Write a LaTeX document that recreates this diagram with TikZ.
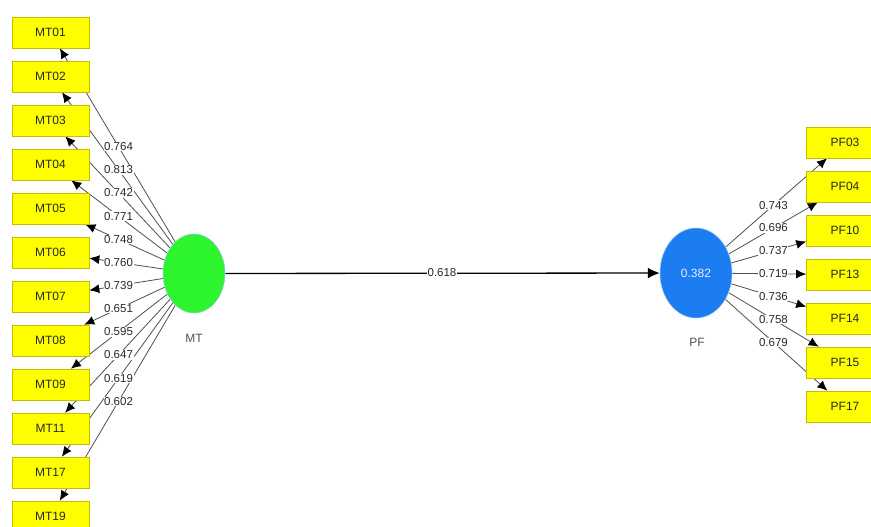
\documentclass[tikz,border=0pt]{standalone}
\usepackage{fontspec}
\setmainfont{Liberation Sans}
\usetikzlibrary{shapes.geometric,arrows.meta,calc}
\pgfdeclarelayer{bg}
\pgfsetlayers{bg,main}
\definecolor{boxyellow}{RGB}{255,255,0}
\definecolor{boxborder}{RGB}{200,190,0}
\definecolor{mtgreen}{RGB}{45,245,45}
\definecolor{pfblue}{RGB}{28,124,242}
\definecolor{rim}{RGB}{150,200,240}
\definecolor{edgegray}{RGB}{80,80,80}
\definecolor{txt}{RGB}{40,40,40}
\tikzset{
  ind/.style={draw=boxborder, line width=0.6pt, fill=boxyellow, minimum width=77pt, minimum height=31pt, inner sep=0pt, font=\fontsize{12}{13}\selectfont, text=txt},
  lat/.style={ellipse, draw=rim, line width=0.5pt, inner sep=0pt},
  ld/.style={draw=edgegray, line width=0.8pt, -{Latex[length=10pt,width=9pt,color=black]}},
  wt/.style={fill=white, inner sep=0.6pt, font=\fontsize{11.5}{12}\selectfont, text=txt},
  latname/.style={font=\fontsize{12}{13}\selectfont, text=txt!80}
}
\begin{document}
\begin{tikzpicture}[x=1pt,y=-1pt]
\useasboundingbox (0,0) rectangle (871,527);
\clip (0,0) rectangle (871,527);
% latent variables
\node[lat, fill=mtgreen, minimum width=62pt, minimum height=79pt] (MT) at (194,273.5) {};
\node[lat, fill=pfblue, minimum width=72pt, minimum height=90pt, text=white!92!blue, font=\fontsize{12}{13}\selectfont] (PF) at (696,273) {0.382};
\node[latname] (MTl) at (194,338) {MT};
\node[latname] (PFl) at (697,342) {PF};
% MT indicators
\foreach \n [count=\i from 0] in {01,02,03,04,05,06,07,08,09,11,17,19}
  \node[ind] (MT\n) at (50.5,32.5+44*\i) {MT\n};
% PF indicators
\foreach \n [count=\i from 0] in {03,04,10,13,14,15,17}
  \node[ind] (PF\n) at (845,142.5+44*\i) {PF\n};
% edges
\begin{pgfonlayer}{bg}
\fill[white] (0,0) rectangle (871,527);
\foreach \n in {01,02,03,04,05,06,07,08,09,11,17,19}
  \draw[ld] (MT) -- (MT\n);
\foreach \n in {03,04,10,13,14,15,17}
  \draw[ld] (PF) -- (PF\n);
\draw[draw=black, line width=1.3pt, -{Latex[length=12pt,width=11pt]}] (MT) -- (PF);
\end{pgfonlayer}
% weights
\foreach \n/\w in {01/0.764,02/0.813,03/0.742,04/0.771,05/0.748,06/0.760,07/0.739,08/0.651,09/0.595,11/0.647,17/0.619,19/0.602}
  \node[wt] (wMT\n) at ($(MT.center)!0.526!(MT\n.center)$) {\w};
\foreach \n/\w in {03/0.743,04/0.696,10/0.737,13/0.719,14/0.736,15/0.758,17/0.679}
  \node[wt] (wPF\n) at ($(PF.center)!0.52!(PF\n.center)$) {\w};
\node[wt] (wpath) at (442,273) {0.618};
\end{tikzpicture}
\end{document}
